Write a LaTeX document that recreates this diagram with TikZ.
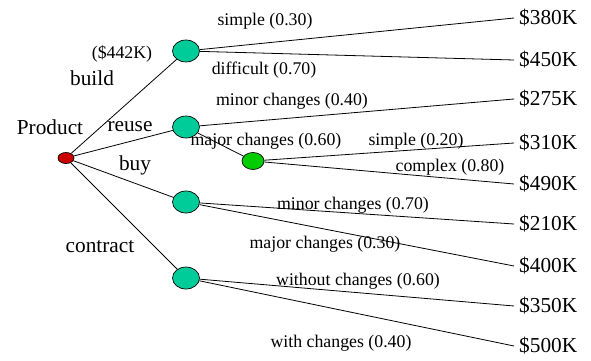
\documentclass[tikz,border=0pt]{standalone}
\usepackage{fontspec}
\setmainfont{Liberation Serif}
\usetikzlibrary{shapes.geometric}
\definecolor{chanceteal}{RGB}{0,204,153}
\definecolor{subgreen}{RGB}{0,204,0}
\definecolor{rootred}{RGB}{204,0,0}
\begin{document}
\begin{tikzpicture}[x=1pt,y=-1pt,
  edge/.style={draw=black,line width=0.8pt},
  chance/.style={ellipse,draw=black,line width=0.7pt,fill=chanceteal,minimum width=27pt,minimum height=22pt,inner sep=0pt},
  subchance/.style={ellipse,draw=black,line width=0.7pt,fill=subgreen,minimum width=22pt,minimum height=17pt,inner sep=0pt},
  rootnode/.style={ellipse,draw=black,line width=0.7pt,fill=rootred,minimum width=16pt,minimum height=11pt,inner sep=0pt},
  val/.style={anchor=west,inner sep=0pt,inner xsep=5pt,font=\fontsize{21.3}{24}\selectfont},
  big/.style={inner sep=0pt,font=\fontsize{21.3}{24}\selectfont},
  small/.style={inner sep=0pt,font=\fontsize{17.8}{20}\selectfont}]
\useasboundingbox (0,0) rectangle (591,361);
% decision nodes
\node[rootnode] (p) at (66,158) {};
\node[chance] (b) at (186,51) {};
\node[chance] (r) at (186,127) {};
\node[subchance] (rm) at (253,161) {};
\node[chance] (y) at (186,202) {};
\node[chance] (c) at (186,278) {};
% values
\node[val] (v1) at (514,18) {\$380K};
\node[val] (v2) at (514,60) {\$450K};
\node[val] (v3) at (514,99) {\$275K};
\node[val] (v4) at (514,143) {\$310K};
\node[val] (v5) at (514,184) {\$490K};
\node[val] (v6) at (514,224) {\$210K};
\node[val] (v7) at (514,266) {\$400K};
\node[val] (v8) at (514,306) {\$350K};
\node[val] (v9) at (514,346) {\$500K};
% labels
\node[big] (lprod) at (50,127) {Product};
\node[small] (lev) at (122,54) {(\$442K)};
\node[big] (lbuild) at (92,78) {build};
\node[big] (lreuse) at (130,127) {reuse};
\node[big] (lbuy) at (135,165) {buy};
\node[big] (lcontract) at (100,247) {contract};
\node[small] (l1) at (265,21) {simple (0.30)};
\node[small] (l2) at (264,70) {difficult (0.70)};
\node[small] (l3) at (292,101) {minor changes (0.40)};
\node[small] (l4) at (266,141) {major changes (0.60)};
\node[small] (l5) at (416,141) {simple (0.20)};
\node[small] (l6) at (450,167) {complex (0.80)};
\node[small] (l7) at (353,205) {minor changes (0.70)};
\node[small] (l8) at (325,244) {major changes (0.30)};
\node[small] (l9) at (358,281) {without changes (0.60)};
\node[small] (l10) at (341,343) {with changes (0.40)};
% edges
\draw[edge] (p) -- (b);
\draw[edge] (p) -- (r);
\draw[edge] (p) -- (y);
\draw[edge] (p) -- (c);
\draw[edge] (b) -- (v1.west);
\draw[edge] (b) -- (v2.west);
\draw[edge] (r) -- (v3.west);
\draw[edge] (r) -- (rm);
\draw[edge] (rm) -- (v4.west);
\draw[edge] (rm) -- (v5.west);
\draw[edge] (y) -- (v6.west);
\draw[edge] (y) -- (v7.west);
\draw[edge] (c) -- (v8.west);
\draw[edge] (c) -- (v9.west);
\end{tikzpicture}
\end{document}
